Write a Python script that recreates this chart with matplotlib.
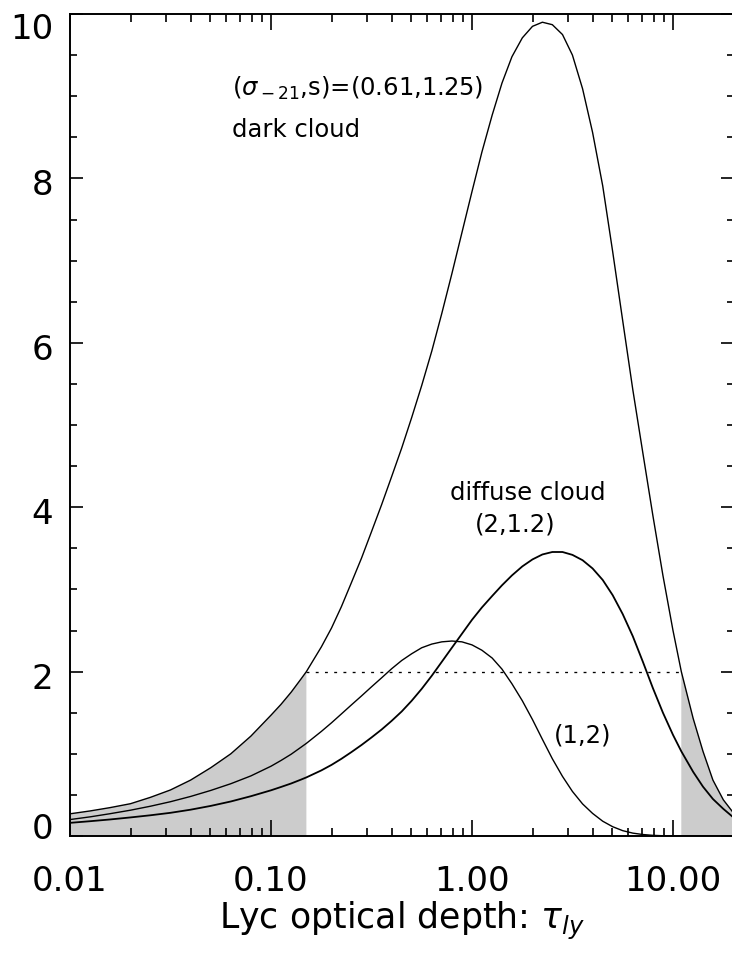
import matplotlib
matplotlib.use('Agg')
import matplotlib.pyplot as plt
import numpy as np
from matplotlib.transforms import ScaledTranslation
from matplotlib.ticker import FixedLocator, NullFormatter

# ---- data ----
tau = [0.0100, 0.0126, 0.0158, 0.0200, 0.0251, 0.0316, 0.0398, 0.0501, 0.0631, 0.0794,
       0.100, 0.112, 0.126, 0.141, 0.150, 0.178, 0.200, 0.224, 0.251, 0.282,
       0.316, 0.355, 0.398, 0.447, 0.501, 0.562, 0.631, 0.708, 0.794, 0.891,
       1.00, 1.12, 1.26, 1.41, 1.58, 1.78, 2.00, 2.24, 2.51, 2.82,
       3.16, 3.55, 3.98, 4.47, 5.01, 5.62, 6.31, 7.08, 7.94, 8.91,
       10.0, 11.0, 12.6, 14.1, 15.8, 17.8, 20.0]

dark_cloud = [0.27, 0.305, 0.345, 0.393, 0.47, 0.56, 0.68, 0.83, 1.00, 1.215,
              1.47, 1.60, 1.75, 1.91, 2.00, 2.30, 2.53, 2.79, 3.08, 3.38,
              3.70, 4.03, 4.37, 4.72, 5.09, 5.48, 5.90, 6.36, 6.84, 7.34,
              7.84, 8.32, 8.77, 9.16, 9.48, 9.71, 9.85, 9.90, 9.87, 9.75,
              9.50, 9.09, 8.56, 7.91, 7.11, 6.27, 5.43, 4.66, 3.90, 3.17,
              2.50, 2.00, 1.43, 1.03, 0.68, 0.44, 0.28]

diffuse_cloud = [0.160, 0.180, 0.201, 0.226, 0.252, 0.282, 0.320, 0.366, 0.420, 0.484,
                 0.556, 0.596, 0.639, 0.686, 0.713, 0.798, 0.865, 0.939, 1.020, 1.107,
                 1.198, 1.295, 1.400, 1.515, 1.645, 1.790, 1.950, 2.120, 2.290, 2.460,
                 2.630, 2.780, 2.920, 3.050, 3.170, 3.280, 3.365, 3.425, 3.455, 3.455,
                 3.420, 3.355, 3.255, 3.115, 2.930, 2.700, 2.430, 2.120, 1.800, 1.500,
                 1.230, 1.030, 0.780, 0.600, 0.450, 0.330, 0.225]

cloud_1_2 = [0.200, 0.233, 0.271, 0.314, 0.362, 0.417, 0.481, 0.554, 0.636, 0.731,
             0.849, 0.918, 0.995, 1.080, 1.127, 1.272, 1.377, 1.485, 1.594, 1.704,
             1.814, 1.924, 2.034, 2.135, 2.217, 2.290, 2.335, 2.362, 2.372, 2.362,
             2.325, 2.260, 2.165, 2.030, 1.852, 1.645, 1.416, 1.176, 0.940, 0.725,
             0.542, 0.390, 0.275, 0.180, 0.113, 0.065, 0.035, 0.018, 0.008, 0.003,
             0.001, 0.0, 0.0, 0.0, 0.0, 0.0, 0.0]

threshold = 2.0
tau_low = 0.15
tau_high = 11.0

x_major = [0.01, 0.1, 1.0, 10.0]
x_major_labels = ['0.01', '0.10', '1.00', '10.00']
y_major = [0, 2, 4, 6, 8, 10]
y_major_labels = ['0', '2', '4', '6', '8', '10']

# ---- figure ----
W, H = 732, 956
fig = plt.figure(figsize=(W / 100, H / 100), dpi=100)
ax = fig.add_axes([70 / W, 120 / H, (733.5 - 70) / W, 822 / H])
ax.set_xscale('log')
ax.set_xlim(0.01, 20)
ax.set_ylim(0, 10)

t = np.array(tau)
d = np.array(dark_cloud)
mask = (t <= tau_low) | (t >= tau_high)
ax.fill_between(t, 0, d, where=mask, color='#cccccc', linewidth=0, zorder=1)

ax.plot(tau, dark_cloud, color='k', lw=1.0, zorder=3)
ax.plot(tau, diffuse_cloud, color='k', lw=1.3, zorder=3)
ax.plot(tau, cloud_1_2, color='k', lw=1.0, zorder=3)
ax.hlines(threshold, tau_low, tau_high, colors='k', linestyles=(0, (2.2, 4.8)), lw=0.95, zorder=2)

fs_ann = 17.5
ax.text(0.0643, 9.0, r'($\sigma_{\rm -21}$,s)=(0.61,1.25)', fontsize=fs_ann, ha='left', va='baseline')
ax.text(0.0643, 8.50, 'dark cloud', fontsize=fs_ann, ha='left', va='baseline')
ax.text(1.905, 4.085, 'diffuse cloud', fontsize=fs_ann, ha='center', va='baseline')
ax.text(1.64, 3.71, '(2,1.2)', fontsize=fs_ann, ha='center', va='baseline')
ax.text(3.56, 1.14, '(1,2)', fontsize=fs_ann, ha='center', va='baseline')

ax.xaxis.set_major_locator(FixedLocator(x_major))
ax.set_xticklabels(x_major_labels)
ax.xaxis.set_minor_locator(FixedLocator([m * 10.0 ** e for e in (-2, -1, 0, 1) for m in range(2, 10) if m * 10.0 ** e <= 20]))
ax.xaxis.set_minor_formatter(NullFormatter())
ax.set_yticks(y_major)
ax.set_yticklabels(y_major_labels)
ax.yaxis.set_minor_locator(FixedLocator(np.arange(0, 10.01, 0.5)))

ax.tick_params(which='both', direction='in', top=True, right=True, colors='k')
ax.tick_params(axis='x', which='major', length=11.5, width=1.2, pad=21, labelsize=24.5)
ax.tick_params(axis='x', which='minor', length=5.8, width=1.2)
ax.tick_params(axis='y', which='major', length=9.4, width=1.2, pad=12, labelsize=24.5)
ax.tick_params(axis='y', which='minor', length=5.0, width=1.2)
for s in ax.spines.values():
    s.set_linewidth(1.4)

ax.set_xlabel(r'Lyc optical depth: $\tau_{ly}$', fontsize=25, labelpad=1)

# shift y tick labels like the reference (end labels kept inside)
offsets = {0: 10, 2: -4, 4: -4, 6: -4, 8: -4, 10: -12}
for val, lab in zip(y_major, ax.get_yticklabels()):
    dy = offsets[val] / 100.0
    lab.set_transform(lab.get_transform() + ScaledTranslation(0, dy, fig.dpi_scale_trans))

fig.savefig('out.png', dpi=100)
